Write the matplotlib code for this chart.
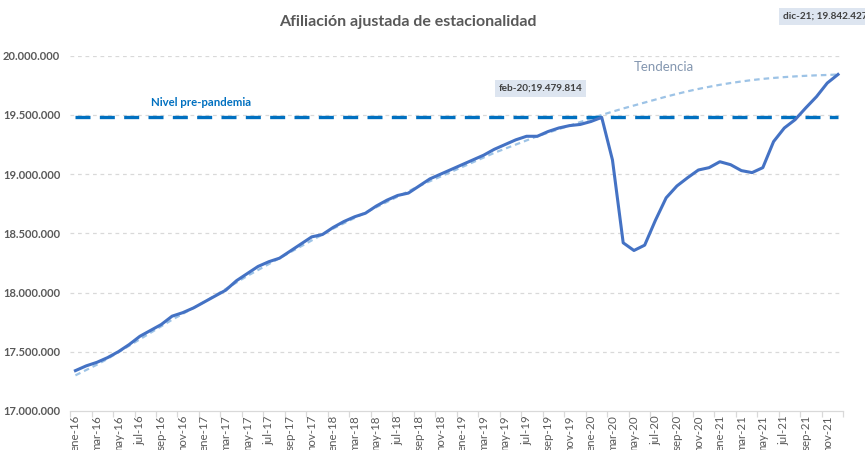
import numpy as np
import matplotlib
matplotlib.use("Agg")
import matplotlib.pyplot as plt
from matplotlib.ticker import FuncFormatter

# ---- data ----
month_abbr = ["ene", "feb", "mar", "abr", "may", "jun", "jul", "ago", "sep", "oct", "nov", "dic"]
years = ["16", "17", "18", "19", "20", "21"]
categories = [f"{m}-{y}" for y in years for m in month_abbr]

affiliation = [
    17340000, 17380000, 17410000, 17450000, 17500000, 17560000, 17630000, 17680000, 17730000, 17800000, 17830000, 17870000,
    17920000, 17970000, 18020000, 18100000, 18160000, 18220000, 18260000, 18290000, 18350000, 18410000, 18470000, 18490000,
    18550000, 18600000, 18640000, 18670000, 18730000, 18780000, 18820000, 18840000, 18900000, 18960000, 19000000, 19040000,
    19080000, 19120000, 19160000, 19210000, 19250000, 19290000, 19320000, 19320000, 19360000, 19390000, 19410000, 19420000,
    19445000, 19479814, 19120000, 18420000, 18355000, 18400000, 18610000, 18800000, 18900000, 18970000, 19035000, 19055000,
    19105000, 19080000, 19030000, 19013000, 19055000, 19275000, 19390000, 19460000, 19560000, 19655000, 19770000, 19842427,
]

# "Tendencia" series
trend = [
    17300000, 17345000, 17390000, 17440000, 17495000, 17550000, 17605000, 17660000, 17715000, 17770000, 17820000, 17870000,
    17920000, 17975000, 18030000, 18085000, 18140000, 18190000, 18240000, 18290000, 18340000, 18390000, 18440000, 18490000,
    18540000, 18585000, 18630000, 18675000, 18720000, 18765000, 18810000, 18855000, 18900000, 18940000, 18980000, 19020000,
    19060000, 19100000, 19140000, 19180000, 19215000, 19250000, 19285000, 19320000, 19350000, 19380000, 19410000, 19440000,
    19470000, 19500000, 19528000, 19555000, 19580000, 19605000, 19630000, 19655000, 19678000, 19700000, 19720000, 19738000,
    19755000, 19770000, 19783000, 19795000, 19805000, 19813000, 19820000, 19826000, 19831000, 19835000, 19838000, 19842000,
]

pre_pandemic_level = 19479814

y_ticks = [17000000, 17500000, 18000000, 18500000, 19000000, 19500000, 20000000]

title = "Afiliación ajustada de estacionalidad"
label_level = "Nivel pre-pandemia"
label_trend = "Tendencia"
label_feb = "feb-20;19.479.814"
label_dec = "dic-21; 19.842.427"

# ---- figure ----
x = np.arange(len(categories))

plt.rcParams['font.family'] = ['Lato', 'DejaVu Sans']

fig = plt.figure(figsize=(8.65, 4.5), dpi=100)
ax = fig.add_axes([0.081, 0.087, 0.894, 0.789])

grid_c = "#D9D9D9"
text_c = "#595959"

for yt in y_ticks[1:]:
    ax.axhline(yt, color=grid_c, lw=0.9, ls=(0, (3, 3)), zorder=0)

ax.plot(x, trend, color="#9DC3E6", lw=1.6, ls=(0, (2.5, 1.8)), zorder=2)
ax.plot(x, [pre_pandemic_level] * len(x), color="#0070C0", lw=2.4, ls=(0, (4.5, 2.8)), zorder=3)
ax.plot(x, affiliation, color="#4472C4", lw=2.2, zorder=4, solid_joinstyle="round")

ax.set_xlim(-0.5, len(x) - 0.5)
ax.set_ylim(y_ticks[0], y_ticks[-1])

ax.set_yticks(y_ticks)
ax.yaxis.set_major_formatter(FuncFormatter(lambda v, p: f"{int(v):,}".replace(",", ".")))
ax.tick_params(axis="y", length=0, pad=7, labelsize=8, labelcolor=text_c)
for lab in ax.get_yticklabels():
    lab.set_fontweight("bold")

ax.set_xticks(x[::2])
ax.set_xticklabels(categories[::2], rotation=90, fontsize=8.3, color=text_c)
ax.tick_params(axis="x", length=0, pad=3)
ax.set_xticks(np.arange(-0.5, len(x), 2), minor=True)
ax.tick_params(axis="x", which="minor", length=4, color=grid_c, width=0.9)

for s in ["top", "right", "left"]:
    ax.spines[s].set_visible(False)
ax.spines["bottom"].set_color(grid_c)
ax.spines["bottom"].set_linewidth(0.9)

fig.text(0.471, 0.951, title, ha="center", va="center", fontsize=11.5, color=text_c, fontweight="bold")

ax.annotate(label_level, xy=(x[7], pre_pandemic_level), xytext=(0, 10.5), textcoords="offset points",
            ha="left", va="center", fontsize=8.2, fontweight="bold", color="#0070C0")
ax.text(54.8, 19905000, label_trend, ha="center", va="center", fontsize=9.5, color="#8497B0")
ax.annotate(label_feb, xy=(x[49], pre_pandemic_level), xytext=(-44, 21), textcoords="offset points",
            ha="center", va="center", fontsize=7.2, fontweight="bold", color="#404040",
            bbox=dict(boxstyle="square,pad=0.4", fc="#DDE5F0", ec="none"))
fig.text(0.905, 0.964, label_dec, ha="left", va="center", fontsize=7.2, fontweight="bold", color="#404040",
         bbox=dict(boxstyle="square,pad=0.4", fc="#DDE5F0", ec="none"))

fig.savefig("out.png", dpi=100, facecolor="white")
